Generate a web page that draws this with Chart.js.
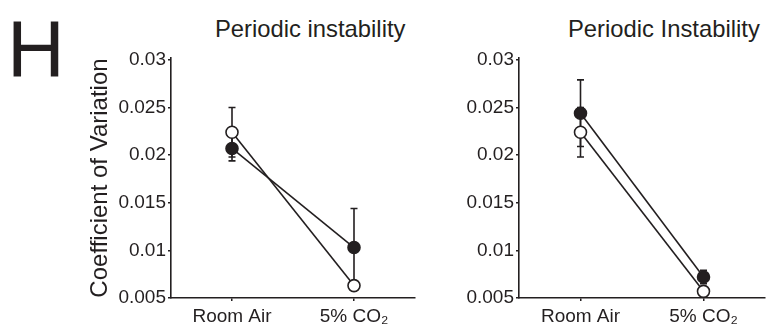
<!DOCTYPE html>
<html>
<head>
<meta charset="utf-8">
<script src="https://cdn.jsdelivr.net/npm/chart.js@4/dist/chart.umd.min.js"></script>
<style>
  body { margin: 0; background: #fff; width: 783px; height: 332px; position: relative; overflow: hidden;
         font-family: "Liberation Sans", Arial, sans-serif; color: #231f20; }
  canvas { position: absolute; top: 0; }
  .title { position: absolute; font-size: 23.8px; line-height: 1; white-space: nowrap; }
  #letter { position: absolute; left: 7px; top: 9px; font-size: 80px; line-height: 1; }
</style>
</head>
<body>
<div id="letter">H</div>
<div class="title" style="left:215px; top:17px;">Periodic instability</div>
<div class="title" style="left:568px; top:17px;">Periodic Instability</div>
<canvas id="leftChart" width="345" height="332" style="left:80px"></canvas>
<canvas id="rightChart" width="345" height="332" style="left:430px"></canvas>
<script>
const categories = ["Room Air", "5% CO\u2082"];
const yTicks = [0.005, 0.01, 0.015, 0.02, 0.025, 0.03];

// left panel
const leftFilled = [0.0207, 0.0103];
const leftFilledErr = [0.0013, 0.0041];
const leftOpen = [0.0224, 0.0063];
const leftOpenErr = [0.0026, 0.0004];

// right panel
const rightFilled = [0.0244, 0.0072];
const rightFilledErr = [0.0035, 0.0007];
const rightOpen = [0.0224, 0.0057];
const rightOpenErr = [0.0026, 0.0004];

const ink = "#231f20";
const family = "'Liberation Sans', Arial, sans-serif";

// mean +/- error whiskers, drawn under the points
const errorBars = {
  id: "errorBars",
  beforeDatasetsDraw(chart) {
    const { ctx, scales: { x, y } } = chart;
    ctx.save();
    ctx.strokeStyle = ink;
    ctx.lineWidth = 1.6;
    chart.data.datasets.forEach(ds => {
      ds.data.forEach((v, i) => {
        const e = ds.errors[i];
        const px = x.getPixelForValue(i);
        const top = y.getPixelForValue(v + e);
        const bot = y.getPixelForValue(v - e);
        ctx.beginPath();
        ctx.moveTo(px, top); ctx.lineTo(px, bot);
        ctx.moveTo(px - 3.5, top); ctx.lineTo(px + 3.5, top);
        ctx.moveTo(px - 3.5, bot); ctx.lineTo(px + 3.5, bot);
        ctx.stroke();
      });
    });
    ctx.restore();
  }
};

function makeChart(id, filled, filledErr, open, openErr, yWidth, showTitle) {
  const series = (data, errors, fill) => ({
    data, errors,
    borderColor: ink,
    borderWidth: 1.6,
    pointRadius: 6,
    pointHoverRadius: 6,
    pointBorderWidth: 1.6,
    pointBorderColor: ink,
    pointBackgroundColor: fill,
    clip: false
  });
  return new Chart(document.getElementById(id), {
    type: "line",
    data: {
      labels: categories,
      datasets: [series(filled, filledErr, ink), series(open, openErr, "#fff")]
    },
    options: {
      responsive: false,
      animation: false,
      devicePixelRatio: 1,
      layout: { padding: { top: 58, right: 10, bottom: 0, left: 0 } },
      plugins: { legend: { display: false }, tooltip: { enabled: false } },
      scales: {
        x: {
          type: "category",
          offset: true,
          grid: { drawOnChartArea: false, drawTicks: true, tickLength: 3, color: ink, lineWidth: 1.5, offset: false },
          border: { color: ink, width: 1.6 },
          ticks: { color: ink, font: { family, size: 19 }, padding: 4, maxRotation: 0, autoSkip: false },
          afterFit(s) { s.height = 34; }
        },
        y: {
          min: 0.005,
          max: 0.0302,
          afterBuildTicks(s) { s.ticks = yTicks.map(v => ({ value: v })); },
          grid: { drawOnChartArea: false, drawTicks: true, tickLength: 3, color: ink, lineWidth: 1.5 },
          border: { color: ink, width: 1.6 },
          ticks: { color: ink, font: { family, size: 19 }, padding: 2, callback: v => String(+v.toFixed(3)) },
          title: {
            display: showTitle,
            text: "Coefficient of Variation",
            color: ink,
            font: { family, size: 24 },
            padding: { top: 6, bottom: 0 }
          },
          afterFit(s) { s.width = yWidth; }
        }
      }
    },
    plugins: [errorBars]
  });
}

makeChart("leftChart", leftFilled, leftFilledErr, leftOpen, leftOpenErr, 91, true);
makeChart("rightChart", rightFilled, rightFilledErr, rightOpen, rightOpenErr, 89, false);
</script>
</body>
</html>
